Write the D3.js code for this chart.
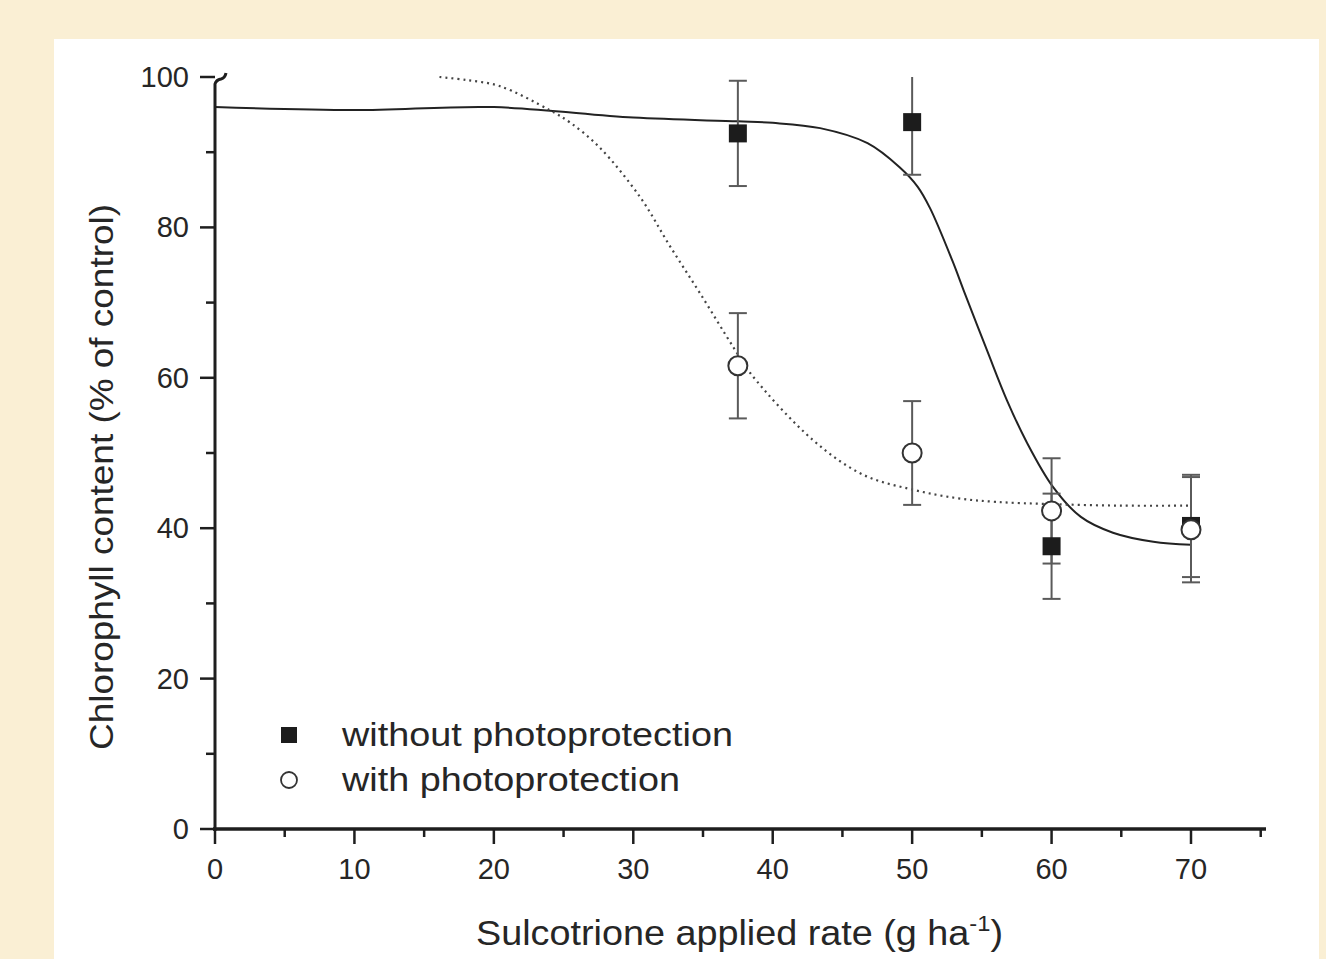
<!DOCTYPE html>
<html>
<head>
<meta charset="utf-8">
<script src="https://cdn.jsdelivr.net/npm/d3@7/dist/d3.min.js"></script>
<style>
  html, body { margin: 0; padding: 0; background: #faefd4; }
  svg { display: block; }
  text { font-family: "Liberation Sans", Arial, Helvetica, sans-serif; fill: #262626; }
</style>
</head>
<body>
<svg id="chart" width="1326" height="959"></svg>
<script>
// ---- data ----
const doses = [37.5, 50, 60, 70];
const withoutMean = [92.5, 94.0, 37.6, 40.3];
const withoutErr  = [7.0, 7.0, 7.0, 6.8];
const withMean    = [61.6, 50.0, 42.3, 39.8];
const withErr     = [7.0, 6.9, 7.0, 7.0];

// fitted curves
const fitWithoutX = [0, 10, 20, 30, 37.5, 40, 43.4, 46.8, 49.1, 50.4, 51.3, 52.9, 53.7, 55.4, 56.8, 58.2, 60.1, 62.1, 64.4, 67.3, 70];
const fitWithoutY = [96.0, 95.6, 96.0, 94.6, 94.1, 93.9, 93.2, 91.2, 88.0, 85.4, 82.5, 75.5, 71.6, 63.5, 57.0, 51.5, 45.5, 41.5, 39.4, 38.2, 37.8];
const fitWithX = [16.1, 18.0, 20.4, 24.0, 25.5, 27.6, 30.5, 32.6, 34.8, 37.2, 38.4, 42.9, 46.5, 50.1, 53.2, 56, 60, 65, 70];
const fitWithY = [100, 99.6, 98.8, 95.6, 93.9, 90.6, 84.0, 77.6, 71.2, 64.0, 60.6, 51.7, 47.1, 45.1, 44.0, 43.5, 43.2, 43.0, 43.0];

const xMajorTicks = [0, 10, 20, 30, 40, 50, 60, 70];
const xMinorTicks = [5, 15, 25, 35, 45, 55, 65, 75];
const yMajorTicks = [0, 20, 40, 60, 80, 100];
const yMinorTicks = [10, 30, 50, 70, 90];

const seriesNames = ["without photoprotection", "with photoprotection"];
const xTitle = "Sulcotrione applied rate (g ha";
const xTitleSup = "-1";
const yTitle = "Chlorophyll content (% of control)";

// ---- drawing ----
const svg = d3.select("#chart");
svg.append("rect").attr("width", 1326).attr("height", 959).attr("fill", "#faefd4");
svg.append("rect").attr("x", 54).attr("y", 39).attr("width", 1265).attr("height", 930).attr("fill", "#ffffff");

const x = d3.scaleLinear().domain([0, 70]).range([215, 1191]);
const y = d3.scaleLinear().domain([0, 100]).range([829, 77]);

const ink = "#1e1e1e";

// curves
const lineGen = d3.line().x(d => x(d[0])).y(d => y(d[1])).curve(d3.curveCatmullRom.alpha(0.5));
svg.append("path")
  .attr("d", lineGen(fitWithoutX.map((v, i) => [v, fitWithoutY[i]])))
  .attr("fill", "none").attr("stroke", "#222").attr("stroke-width", 2);
svg.append("path")
  .attr("d", lineGen(fitWithX.map((v, i) => [v, fitWithY[i]])))
  .attr("fill", "none").attr("stroke", "#444").attr("stroke-width", 2.2)
  .attr("stroke-dasharray", "2,4");

// error bars
function errorBars(means, errs) {
  const g = svg.append("g").attr("stroke", "#5a5a5a").attr("stroke-width", 2);
  doses.forEach((d, i) => {
    const hi = means[i] + errs[i], lo = means[i] - errs[i];
    const top = Math.min(hi, 100);
    g.append("line").attr("x1", x(d)).attr("x2", x(d)).attr("y1", y(top)).attr("y2", y(lo));
    if (hi <= 100) g.append("line").attr("x1", x(d) - 9).attr("x2", x(d) + 9).attr("y1", y(hi)).attr("y2", y(hi));
    g.append("line").attr("x1", x(d) - 9).attr("x2", x(d) + 9).attr("y1", y(lo)).attr("y2", y(lo));
  });
}
errorBars(withoutMean, withoutErr);
errorBars(withMean, withErr);

// markers
svg.append("g").selectAll("rect").data(doses).join("rect")
  .attr("x", (d) => x(d) - 9).attr("y", (d, i) => y(withoutMean[i]) - 9)
  .attr("width", 18).attr("height", 18).attr("fill", "#1c1c1c");
svg.append("g").selectAll("circle").data(doses).join("circle")
  .attr("cx", d => x(d)).attr("cy", (d, i) => y(withMean[i])).attr("r", 9.5)
  .attr("fill", "#fff").attr("stroke", "#333").attr("stroke-width", 2);

// axes
const ax = svg.append("g").attr("stroke", ink).attr("fill", "none");
ax.append("line").attr("x1", 213).attr("x2", 1266).attr("y1", 829).attr("y2", 829).attr("stroke-width", 3.5);
ax.append("path").attr("d", "M215,831 L215,84 Q216,80 221,79 Q225,78 226,73").attr("stroke-width", 3);
xMajorTicks.forEach(t => ax.append("line").attr("x1", x(t)).attr("x2", x(t)).attr("y1", 829).attr("y2", 844).attr("stroke-width", 2.5));
xMinorTicks.forEach(t => ax.append("line").attr("x1", x(t)).attr("x2", x(t)).attr("y1", 829).attr("y2", 837).attr("stroke-width", 2.5));
yMajorTicks.forEach(t => ax.append("line").attr("x1", 215).attr("x2", 200).attr("y1", y(t)).attr("y2", y(t)).attr("stroke-width", 2.5));
yMinorTicks.forEach(t => ax.append("line").attr("x1", 215).attr("x2", 206).attr("y1", y(t)).attr("y2", y(t)).attr("stroke-width", 2.5));

// tick labels
svg.append("g").selectAll("text").data(xMajorTicks).join("text")
  .attr("x", d => x(d)).attr("y", 879).attr("text-anchor", "middle")
  .attr("font-size", 29).text(d => d);
svg.append("g").selectAll("text").data(yMajorTicks).join("text")
  .attr("x", 189).attr("y", d => y(d) + 10).attr("text-anchor", "end")
  .attr("font-size", 29).text(d => d);

// axis titles
const xt = svg.append("text").attr("x", 476).attr("y", 945).attr("font-size", 35)
  .attr("textLength", 527).attr("lengthAdjust", "spacingAndGlyphs");
xt.append("tspan").text(xTitle);
xt.append("tspan").attr("font-size", 22).attr("dy", -14).text(xTitleSup);
xt.append("tspan").attr("dy", 14).text(")");

svg.append("text").attr("transform", "translate(113,477) rotate(-90)")
  .attr("text-anchor", "middle").attr("font-size", 34)
  .attr("textLength", 546).attr("lengthAdjust", "spacingAndGlyphs").text(yTitle);

// legend
svg.append("rect").attr("x", 281).attr("y", 727).attr("width", 16).attr("height", 16).attr("fill", "#1c1c1c");
svg.append("circle").attr("cx", 289).attr("cy", 780).attr("r", 8).attr("fill", "#fff").attr("stroke", "#333").attr("stroke-width", 1.8);
svg.append("text").attr("x", 342).attr("y", 746).attr("font-size", 33)
  .attr("textLength", 391).attr("lengthAdjust", "spacingAndGlyphs").text(seriesNames[0]);
svg.append("text").attr("x", 342).attr("y", 791).attr("font-size", 33)
  .attr("textLength", 338).attr("lengthAdjust", "spacingAndGlyphs").text(seriesNames[1]);
</script>
</body>
</html>
